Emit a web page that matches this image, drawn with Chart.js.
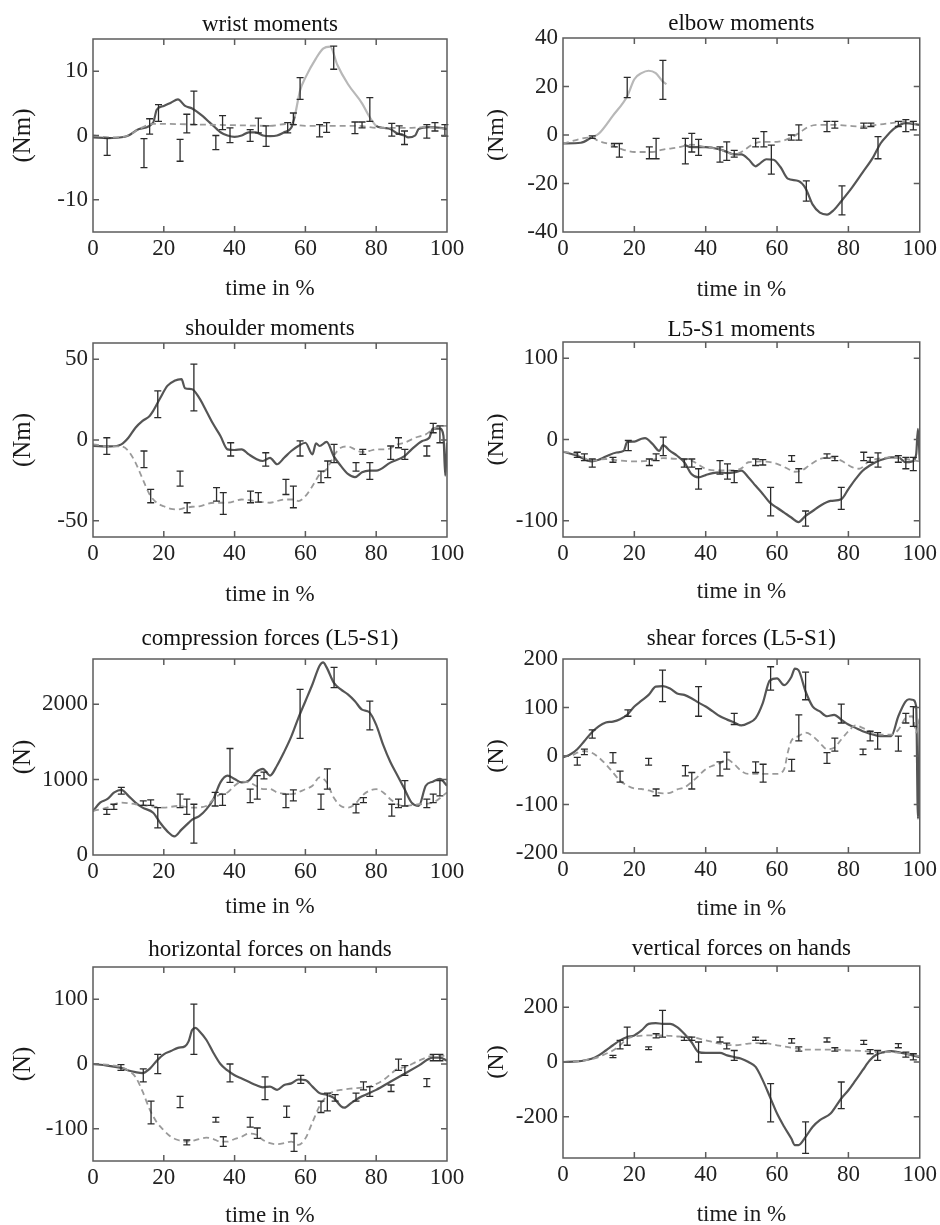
<!DOCTYPE html>
<html><head><meta charset="utf-8">
<script src="https://cdn.jsdelivr.net/npm/chart.js@4.4.0/dist/chart.umd.min.js"></script>
<style>
html,body{margin:0;padding:0;background:#fff;width:940px;height:1225px;overflow:hidden;position:relative}
canvas{position:absolute}
</style></head><body>
<script>
// ---------- data ([x, value] pairs; error bars [x, low, high]) ----------
const xTicks = [0, 20, 40, 60, 80, 100];

const wristSolid = [[0,-0.3],[4,-0.4],[9,-0.2],[10,0],[13,1],[17,2],[18,4],[20,4.6],[22,5.1],[24,5.6],[26,4.6],[28,4.2],[31,3],[33,2],[35,1],[36,0.5],[38,0],[40,-0.2],[42,0],[44,0.5],[46,0.5],[48,0],[50,-0.1],[52,0],[54,0.5],[56,1.2],[57,3],[58.5,7],[60,9],[63,12],[65,13.5],[67,13.8],[69,11],[72,8],[76,5],[78,3],[80,1.5],[82,1.2],[84,1],[86,0.3],[88,0],[89,-0.3],[91,0],[92,1],[95,1.3],[98,1.2],[100,1]];
const wristDashed = [[0,0],[5,-0.3],[10,0],[13,1],[17,1.8],[20,1.8],[30,1.7],[40,1.6],[50,1.5],[55,1.8],[60,1.5],[70,1.5],[75,1.5],[80,1.2],[90,1.2],[95,1.3],[100,1]];
const wristErr = [[4,-3.1,-0.4],[14.4,-5,-0.5],[16,0.2,2.6],[18.5,2.2,4.8],[24.6,-4,-0.6],[26.5,0.4,3.3],[28.5,1.7,6.9],[34.7,-2.2,0],[36.6,0.9,3.1],[38.7,-1.1,1.2],[44.4,-0.9,0.9],[46.7,0.4,2.7],[48.9,-1.7,1.5],[55,0.4,2],[56.6,1.7,3.5],[58.5,5.6,9],[64,-0.2,1.7],[66,0.5,2],[68,10.3,13.9],[74,0.3,2.1],[76,1.2,2.1],[78.2,2.2,5.9],[84.4,-0.1,1.9],[86.5,0.2,1.5],[88,-1.4,0.7],[94.3,-0.4,1.7],[96.6,0.7,2],[99.4,-0.1,1.7]];

const elbowSolid = [[0,-3.5],[5,-3.2],[8,-1],[10,0.5],[14,8],[18,16],[20,23],[22,25.5],[24,26.5],[26,25.5],[28,22],[29,21],[30,null],[34,-4],[36,-5],[40,-5],[44,-6],[46,-7],[48,-8],[50,-8],[52,-10],[54,-12.9],[55,-12],[57,-10],[59,-10.2],[61,-13.3],[63,-18],[66,-19],[68,-22],[70,-28.7],[72,-32],[74,-32.8],[76,-30.8],[78,-27.3],[81,-21.7],[84,-15.4],[87,-9],[89,-3.5],[91,0],[93,2.8],[96,4.9],[100,4.2]];
const elbowDashed = [[0,-3.5],[8,-1],[10,-2.5],[13,-3.8],[16,-5.6],[20,-7],[25,-7],[28,-6],[32,-5.2],[36,-4],[40,-5],[44,-6],[48,-8],[50,-7],[53,-4],[56,-2.8],[60,-2.8],[64,-1],[66,0.7],[69,3.5],[72,4.2],[76,4.2],[80,3.8],[84,3.5],[88,4.2],[92,4.9],[96,5.6],[100,3.8]];
const elbowErr = [[8.2,-1.4,-0.4],[14.4,-4.9,-3.5],[15.8,-9.1,-3.5],[18,15.4,23.8],[24.2,-9.8,-4.9],[26.1,-9.8,-1.4],[28,14.7,30.8],[34.3,-11.9,-1.4],[36.1,-7,0.7],[38,-8.4,-1.8],[44,-11.2,-4.9],[45.9,-10.5,-2.8],[48,-9.1,-6.3],[54,-4.9,-1.4],[56.3,-4.9,1.4],[58.4,-16.1,-4.2],[64,-2.1,0],[66.1,-2.1,4.2],[68.2,-27.3,-18.9],[74,1.4,5.6],[76.2,2.8,5.6],[78.2,-32.9,-21],[84.3,2.8,4.9],[86.3,3.5,4.9],[88.3,-9.8,-0.7],[94,3.5,5.6],[96.1,1.4,6.3],[98.2,2.1,5.6]];

const shoulderSolid = [[0,-3.7],[5,-4],[8,-2.7],[10,1.4],[12,7.6],[14,11.8],[16,14.9],[17,18],[19,26],[21,33.5],[23,36.6],[25,37.6],[26,32],[28,31.4],[30,26],[32,18],[34,9.7],[36,2.5],[38,-5.8],[40,-6.2],[42,-5.8],[44,-8.9],[46,-11.6],[48,-13],[50,-11],[52,-15],[54,-11],[56,-6.8],[58,-3.7],[60,-1.7],[62,-8.9],[63,-2],[64,-3.7],[66,-1.2],[68,-10],[70,-16],[72,-21],[74,-23],[76,-20],[78,-19],[80,-19],[84,-14],[88,-10],[90,-5.8],[93,-0.6],[95,1.4],[96,7],[98,7],[99,2.5],[99.5,-22],[100,-1.7]];
const shoulderDashed = [[0,-2.7],[5,-4],[8,-4],[10,-6.8],[12,-14],[14,-24],[16,-33.7],[18,-38.8],[20,-41],[22,-42.6],[24,-43],[26,-42],[28,-41.3],[30,-41],[34,-38.8],[38,-38.8],[42,-36.8],[46,-37.8],[50,-38.8],[54,-36.8],[57,-36.8],[58,-37.8],[60,-34.7],[62,-28.5],[64,-21.3],[66,-18],[68,-10],[69,-6.8],[70,-4.8],[72,-4],[74,-5.8],[76,-7.4],[78,-6.8],[80,-5.8],[83,-5.8],[86,-2.7],[88,-1.7],[91,1.4],[94,3.5],[96,6.6],[98,8.7],[100,8.7]];
const shoulderErr = [[3.9,-8.9,1.4],[14.4,-17.1,-6.8],[16.3,-38.8,-30.6],[18.3,13.8,30.4],[24.6,-28.5,-19.2],[26.6,-45,-38.8],[28.5,18,46.9],[34.9,-37.8,-29.5],[36.8,-46,-32.6],[38.9,-9.9,-1.7],[44.5,-38.8,-31.6],[46.7,-38.4,-32.6],[48.8,-16.1,-7.9],[54.5,-33.7,-24.4],[56.6,-41.9,-28.5],[58.5,-9.9,-0.6],[64.4,-26.4,-19.2],[66.3,-23.3,-13],[68.1,-14,-2.7],[74.3,-19.2,-14],[76.2,-8.9,-5.8],[78.2,-24.4,-14],[84.1,-12,-3.7],[86.3,-4.8,1.4],[88.1,-12,-5.8],[94.3,-9.9,-3.7],[96.1,4.5,10.3],[98,-1.7,8.7]];

const l5s1Solid = [[0,-15],[4,-20],[8,-27],[10,-25],[12,-21],[15,-16],[17,-14],[18,-3],[20,-2.5],[22,1],[23,1.7],[25,-5],[27,-14],[28,-7],[30,-14],[32,-20],[34,-28],[36,-42.6],[38,-46.7],[40,-43.8],[42,-41.3],[44,-40.5],[46,-41.3],[48,-40.5],[50,-38.4],[52,-46.7],[54,-57],[56,-67],[58,-77.7],[60,-84],[62,-90],[64,-96],[66,-101.6],[68,-94],[70,-88],[72,-81.8],[75,-75.6],[78,-73.5],[80,-61],[82,-48.8],[84,-38.4],[86,-32],[88,-27],[90,-24],[92,-22],[94,-22],[96,-28],[98,-27],[99,-18],[99.5,13],[100,-26]];
const l5s1Dashed = [[0,-15],[4,-18],[8,-26],[12,-24],[16,-26],[20,-27],[24,-26],[28,-23],[32,-24],[36,-26],[40,-36],[44,-38],[48,-38],[50,-35.5],[52,-28],[56,-27],[60,-30],[63,-36],[65,-39.7],[67,-38],[69,-32],[72,-24],[75,-22],[78,-26],[81,-34],[83,-36],[86,-26],[88,-24],[92,-22],[96,-24],[100,-27]];
const l5s1Err = [[4,-22,-15.7],[6,-26,-17.8],[8.2,-34,-24],[14,-28,-22],[18.3,-13.6,-1.2],[24.2,-32,-24],[26.1,-26,-17.8],[28.1,-19.8,2.9],[34,-34,-24],[36.1,-34,-24],[38,-61,-36],[44,-42.6,-26],[46.1,-48.8,-30],[48,-53,-38.4],[54,-32,-24],[56,-31.4,-24.8],[58.2,-94,-59],[64.1,-27,-19.8],[66.1,-53,-36],[68,-106.6,-88],[74,-23,-17.8],[76.2,-26,-20.7],[78,-86,-59],[84.3,-26,-15.7],[86.1,-28,-22],[88.3,-34,-16.5],[94,-28,-19.8],[96.1,-36,-22],[98.2,-38.4,-22]];

const compSolid = [[0,583],[2,695],[4,740],[6,830],[8,865],[10,785],[12,695],[14,628],[17,560],[19,426],[21,314],[23,247],[25,336],[27,426],[28,470],[30,515],[32,605],[34,740],[36,964],[38,1054],[40,1009],[42,964],[44,987],[46,1098],[48,1143],[50,1054],[52,1188],[54,1368],[56,1570],[58,1816],[60,2040],[62,2265],[64,2511],[65,2556],[66,2489],[68,2287],[70,2197],[72,2130],[74,2040],[76,1928],[78,1897],[80,1726],[82,1457],[84,1233],[86,1054],[88,874],[90,695],[92,650],[94,919],[96,973],[98,1009],[100,919]];
const compDashed = [[0,583],[4,628],[8,695],[12,673],[16,650],[20,628],[24,650],[28,628],[32,650],[34,740],[36,807],[38,830],[40,919],[42,973],[44,964],[46,919],[48,874],[50,874],[52,830],[56,807],[60,874],[62,919],[64,1031],[66,964],[68,762],[70,650],[72,628],[74,673],[76,785],[78,852],[80,874],[82,830],[84,740],[86,673],[88,650],[92,673],[96,695],[100,830]];
const compErr = [[3.9,538,605],[5.9,605,673],[8,807,897],[14.2,659,717],[16.3,659,730],[18.3,359,628],[24.6,628,807],[26.5,538,740],[28.5,157,673],[34.5,650,830],[36.6,659,807],[38.7,964,1413],[44.4,695,874],[46.4,740,1054],[48.3,1009,1099],[54.5,628,807],[56.6,717,865],[58.5,1547,2197],[64.4,605,807],[66.2,874,1143],[68.1,2220,2489],[74.3,560,673],[76.4,695,762],[78.2,1659,2040],[84.4,516,673],[86.3,628,740],[88.1,650,987],[94.3,628,740],[96.1,695,807],[98,785,987]];

const shearSolid = [[0,-3],[2,3],[4,14],[6,31],[8,48],[10,61],[12,69],[14,71],[16,76],[18,85],[20,102],[22,114],[24,126],[26,143],[28,144],[30,139],[32,129],[34,126],[36,119],[38,110],[40,102],[42,92],[44,82],[46,75],[48,69],[50,63],[52,68],[54,78],[56,109],[58,156],[60,160],[62,146],[64,163],[65,180],[66,177],[68,133],[70,102],[72,92],[74,82],[76,85],[78,75],[80,65],[82,58],[84,51],[86,46],[88,42],[90,41],[92,41],[94,82],[96,112],[97,117],[98,116],[99,102],[99.5,-129],[100,75]];
const shearDashed = [[0,0],[2,0],[4,7],[6,10],[8,7],[10,-3],[12,-17],[14,-34],[16,-51],[18,-61],[20,-67],[22,-68],[24,-71],[26,-75],[28,-77],[30,-76],[32,-69],[34,-65],[36,-54],[38,-41],[40,-27],[42,-20],[44,-15],[46,-7],[48,-17],[50,-31],[52,-37],[56,-37],[60,-37],[62,-27],[63,7],[64,31],[66,41],[68,48],[70,41],[72,27],[74,14],[76,17],[78,34],[80,51],[82,63],[84,58],[86,51],[88,44],[90,44],[92,44],[94,54],[96,78],[98,82],[99,48],[100,78]];
const shearErr = [[4,-19,-3],[6,3,14],[8.2,37,54],[14,-14,7],[16,-54,-31],[18.2,82,95],[24,-19,-5],[26.1,-82,-68],[27.9,112,177],[34.3,-41,-20],[36.1,-68,-34],[38,82,143],[44,-41,-12],[45.9,-27,8],[48,65,88],[54,-34,-12],[56.1,-54,-17],[58.2,136,184],[64.1,-31,-7],[66.1,31,85],[68,116,173],[74,-15,7],[76.2,10,37],[78,68,107],[84.1,3,14],[86.1,31,51],[88.2,14,48],[94,10,41],[96.1,68,88],[98.2,61,102]];

const horizSolid = [[0,0],[4,-2.5],[8,-6],[10,-10],[12,-12.5],[14,-14],[16,-7.5],[18,5],[20,15],[22,20],[24,25],[26,27.5],[27,35],[28,52.5],[29,56],[30,51],[32,37.5],[34,17.5],[36,0],[38,-10],[40,-17.5],[42,-22.5],[44,-27.5],[46,-32.5],[48,-36],[50,-35],[52,-40],[54,-32.5],[56,-30],[58,-24],[60,-25],[62,-35],[64,-45],[66,-47.5],[68,-52.5],[70,-65],[71,-67.5],[73,-60],[76,-50],[80,-40],[84,-27.5],[88,-15],[92,-2.5],[96,10],[98,10],[100,5]];
const horizDashed = [[0,0],[6,-2.5],[10,-10],[12,-20],[14,-42.5],[16,-70],[18,-90],[20,-102.5],[22,-112.5],[24,-117.5],[26,-120],[28,-119],[30,-116],[32,-114],[34,-116],[36,-120],[38,-120],[40,-116],[42,-112.5],[44,-107.5],[46,-109],[48,-117.5],[50,-122.5],[52,-124],[54,-122.5],[56,-120],[58,-125],[60,-115],[62,-90],[64,-65],[66,-50],[68,-42.5],[70,-40],[74,-37.5],[78,-35],[82,-25],[86,-7.5],[88,-5],[92,5],[96,12.5],[100,12.5]];
const horizErr = [[7.9,-10,-1],[14.2,-27.5,-7.5],[16.4,-92.5,-57.5],[18.3,-15,15],[24.6,-67.5,-50],[26.5,-125,-117.5],[28.5,15,92.5],[34.7,-90,-82.5],[36.8,-127.5,-112.5],[38.7,-27.5,0],[44.4,-97.5,-82.5],[46.4,-115,-99],[48.6,-55,-20],[54.7,-82.5,-65],[56.8,-135,-107.5],[58.7,-30,-17.5],[64.4,-75,-57.5],[66.2,-72.5,-45],[68.4,-57.5,-47.5],[74.3,-57.5,-45],[76.4,-40,-27.5],[78.2,-50,-35],[84.2,-42.5,-32.5],[86.3,-10,7.5],[88.1,-17.5,-2.5],[94.3,-35,-22.5],[96.1,5,15],[98,5,15]];

const vertSolid = [[0,0],[4,2],[8,12],[10,24],[12,42],[14,61],[16,79],[18,91],[20,97],[22,115],[24,139],[26,142],[28,139],[30,139],[32,127],[34,103],[36,73],[38,36],[40,33],[44,33],[46,24],[48,18],[50,12],[52,0],[54,-18],[56,-67],[58,-127],[60,-188],[62,-236],[64,-279],[65,-303],[66,-303],[68,-273],[70,-236],[72,-212],[75,-188],[78,-133],[80,-103],[82,-67],[84,-30],[86,6],[88,28],[90,36],[92,40],[94,36],[96,30],[98,24],[100,18]];
const vertDashed = [[0,0],[6,6],[10,18],[12,30],[14,42],[16,61],[18,85],[20,93],[24,97],[28,97],[32,93],[36,91],[40,79],[44,67],[48,61],[52,67],[56,69],[60,61],[64,52],[68,45],[72,45],[76,45],[80,42],[84,40],[88,36],[92,36],[96,30],[100,21]];
const vertErr = [[14,16,24],[16,48,79],[18,61,127],[24,45,55],[26.1,88,103],[27.9,91,188],[34,79,91],[36.1,79,91],[38,0,73],[44,73,91],[45.9,48,69],[48,6,42],[54,79,91],[56.1,67,79],[58.2,-218,-79],[64.1,69,85],[66.1,40,55],[68,-333,-218],[74,73,88],[76.2,40,52],[78,-170,-73],[84.3,64,79],[86.1,30,45],[88.2,6,42],[94,52,67],[96.1,18,36],[98.2,8,30]];

// ---------- panels ----------
const panels = [
  {title:'wrist moments', ylabel:'(Nm)', col:0, boxTop:39, boxBottom:232, titleOff:12, xlabOff:59, ymin:-15, ymax:15, yticks:[-10,0,10], solid:wristSolid, dashed:wristDashed, err:wristErr, faint:[56.5,80]},
  {title:'elbow moments', ylabel:'(Nm)', col:1, boxTop:38, boxBottom:232, titleOff:12, xlabOff:60, ymin:-40, ymax:40, yticks:[-40,-20,0,20,40], solid:elbowSolid, dashed:elbowDashed, err:elbowErr, faint:[8,30]},
  {title:'shoulder moments', ylabel:'(Nm)', col:0, boxTop:343, boxBottom:537, titleOff:11.5, xlabOff:60, ymin:-60, ymax:60, yticks:[-50,0,50], solid:shoulderSolid, dashed:shoulderDashed, err:shoulderErr},
  {title:'L5-S1 moments', ylabel:'(Nm)', col:1, boxTop:342, boxBottom:537, titleOff:9.5, xlabOff:57, ymin:-120, ymax:120, yticks:[-100,0,100], solid:l5s1Solid, dashed:l5s1Dashed, err:l5s1Err},
  {title:'compression forces (L5-S1)', ylabel:'(N)', col:0, boxTop:659, boxBottom:855, titleOff:18, xlabOff:54, ymin:0, ymax:2600, yticks:[0,1000,2000], solid:compSolid, dashed:compDashed, err:compErr},
  {title:'shear forces (L5-S1)', ylabel:'(N)', col:1, boxTop:659, boxBottom:853, titleOff:17.5, xlabOff:58, ymin:-200, ymax:200, yticks:[-200,-100,0,100,200], solid:shearSolid, dashed:shearDashed, err:shearErr},
  {title:'horizontal forces on hands', ylabel:'(N)', col:0, boxTop:967, boxBottom:1161, titleOff:14.5, xlabOff:57, ymin:-150, ymax:150, yticks:[-100,0,100], solid:horizSolid, dashed:horizDashed, err:horizErr},
  {title:'vertical forces on hands', ylabel:'(N)', col:1, boxTop:966, boxBottom:1158, titleOff:15, xlabOff:59, ymin:-350, ymax:350, yticks:[-200,0,200], solid:vertSolid, dashed:vertDashed, err:vertErr}
];

const FONT = "'Liberation Serif', 'Times New Roman', serif";
const toXY = arr => arr.map(([x, y]) => ({x, y}));

function framePlugin(p, i) {
  return {
    id: 'frame' + i,
    afterDatasetsDraw(chart) {
      const {ctx, chartArea: a, scales: {x, y}} = chart;
      ctx.save();
      ctx.strokeStyle = '#2b2b2b';
      ctx.lineWidth = 1.3;
      ctx.beginPath();
      p.err.forEach(([bx, lo, hi]) => {
        const px = x.getPixelForValue(bx);
        const y1 = y.getPixelForValue(lo), y2 = y.getPixelForValue(hi);
        ctx.moveTo(px, y1); ctx.lineTo(px, y2);
        ctx.moveTo(px - 3.5, y1); ctx.lineTo(px + 3.5, y1);
        ctx.moveTo(px - 3.5, y2); ctx.lineTo(px + 3.5, y2);
      });
      ctx.stroke();
      ctx.strokeStyle = '#5c5c5c';
      ctx.lineWidth = 1.5;
      ctx.strokeRect(a.left, a.top, a.right - a.left, a.bottom - a.top);
      ctx.beginPath();
      x.ticks.forEach(t => {
        if (t.value > x.min && t.value < x.max) {
          const px = x.getPixelForValue(t.value);
          ctx.moveTo(px, a.bottom); ctx.lineTo(px, a.bottom - 6);
          ctx.moveTo(px, a.top); ctx.lineTo(px, a.top + 6);
        }
      });
      y.ticks.forEach(t => {
        if (t.value > y.min && t.value < y.max) {
          const py = y.getPixelForValue(t.value);
          ctx.moveTo(a.left, py); ctx.lineTo(a.left + 6, py);
          ctx.moveTo(a.right, py); ctx.lineTo(a.right - 6, py);
        }
      });
      ctx.stroke();
      ctx.restore();
    }
  };
}

panels.forEach((p, i) => {
  const A = 45;
  const plotH = p.boxBottom - p.boxTop;
  const B = p.xlabOff + 14;
  const W = 470, H = A + plotH + B;
  const cv = document.createElement('canvas');
  cv.width = W; cv.height = H;
  cv.style.width = W + 'px'; cv.style.height = H + 'px';
  cv.style.left = (p.col ? 470 : 0) + 'px';
  cv.style.top = (p.boxTop - A) + 'px';
  document.body.appendChild(cv);

  const faint = p.faint;
  const ylabSize = p.col ? 24 : 25;
  new Chart(cv, {
    type: 'line',
    data: {
      datasets: [
        {data: toXY(p.dashed), xAxisID: 'x', yAxisID: 'y', borderColor: '#9a9a9a', borderWidth: 1.8, borderDash: [6, 4],
         pointRadius: 0, cubicInterpolationMode: 'monotone', fill: false},
        {data: toXY(p.solid), xAxisID: 'x', yAxisID: 'y', borderColor: '#555', borderWidth: 2.2, pointRadius: 0,
         cubicInterpolationMode: 'monotone', fill: false, spanGaps: false,
         segment: {borderColor: c => (faint && c.p0.parsed.x >= faint[0] && c.p1.parsed.x <= faint[1]) ? '#b8b8b8' : undefined}}
      ]
    },
    options: {
      responsive: false, animation: false, devicePixelRatio: 1,
      layout: {padding: {left: 0, top: 0, bottom: 0, right: p.col ? 19 : 23}},
      plugins: {legend: {display: false}, tooltip: {enabled: false}, title: {display: false}},
      scales: {
        x: {
          type: 'linear', position: 'bottom', min: 0, max: 100,
          afterBuildTicks: s => { s.ticks = xTicks.map(v => ({value: v})); },
          afterFit: s => { s.height = B; },
          grid: {display: false, drawTicks: false}, border: {display: false},
          ticks: {font: {family: FONT, size: 23}, color: '#222', padding: 3, maxRotation: 0, autoSkip: false, callback: v => String(v)},
          title: {display: true, text: 'time in %', font: {family: FONT, size: 23, lineHeight: 1}, color: '#1a1a1a',
                  padding: {top: 0, bottom: B - p.xlabOff - 9}}
        },
        top: {
          type: 'linear', position: 'top', min: 0, max: 100,
          afterFit: s => { s.height = A; },
          ticks: {display: false}, grid: {display: false, drawTicks: false}, border: {display: false},
          title: {display: true, text: p.title, font: {family: FONT, size: 23, lineHeight: 1}, color: '#111',
                  padding: {top: 31 - p.titleOff, bottom: 0}}
        },
        y: {
          type: 'linear', position: 'left', min: p.ymin, max: p.ymax,
          afterBuildTicks: s => { s.ticks = p.yticks.map(v => ({value: v})); },
          afterFit: s => { s.width = 93; },
          grid: {display: false, drawTicks: false}, border: {display: false},
          ticks: {font: {family: FONT, size: 23}, color: '#222', padding: 5, autoSkip: false, callback: v => String(v)},
          title: {display: true, text: p.ylabel, font: {family: FONT, size: ylabSize, lineHeight: 1}, color: '#1a1a1a',
                  padding: {top: (p.col ? 27 : 23) - ylabSize / 2, bottom: 0}}
        }
      }
    },
    plugins: [framePlugin(p, i)]
  });
});
</script>
</body></html>
